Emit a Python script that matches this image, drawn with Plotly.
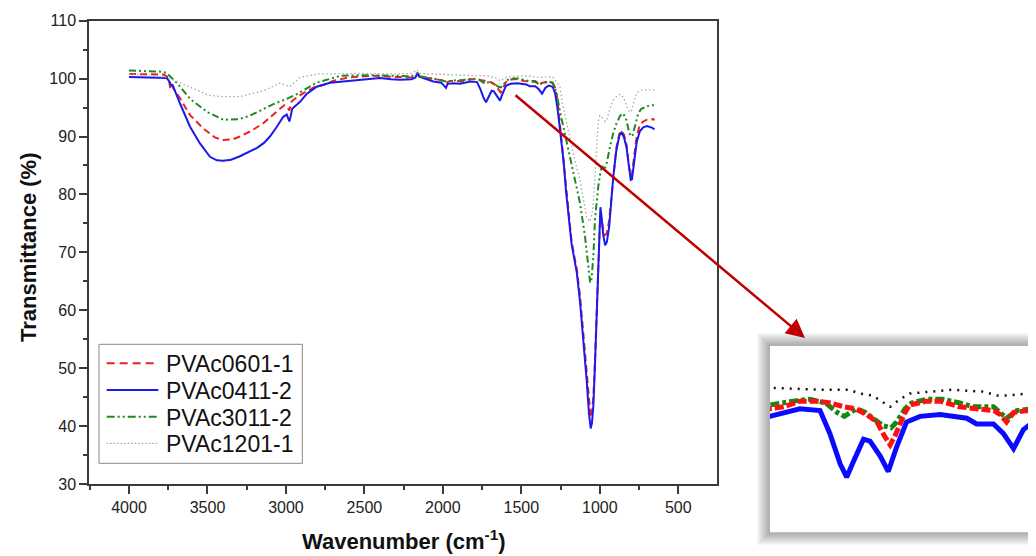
import plotly.graph_objects as go

# ---------------- data ----------------
series_names = ["PVAc0601-1", "PVAc0411-2", "PVAc3011-2", "PVAc1201-1"]

wn_red = [4000, 3900, 3780, 3750, 3745, 3738, 3730, 3715, 3675, 3611, 3527, 3450, 3399, 3340,
          3293, 3220, 3144, 3059, 3010, 2990, 2978, 2965, 2950, 2889, 2820, 2762, 2700, 2600,
          2445, 2300, 2200, 2165, 2150, 2100, 2000, 1980, 1950, 1900, 1889, 1860, 1825, 1790,
          1760, 1730, 1707, 1682, 1660, 1645, 1632, 1622, 1615, 1600, 1590, 1554, 1525, 1483,
          1447, 1410, 1397, 1383, 1368, 1340, 1320, 1300, 1285, 1270, 1255, 1243, 1230, 1215,
          1200, 1180, 1160, 1147, 1126, 1105, 1084, 1069, 1058, 1050, 1041, 1030, 1020, 1010,
          1000, 995, 988, 978, 966, 955, 940, 925, 914, 895, 875, 861, 845, 829, 815, 803, 795,
          780, 765, 745, 723, 700, 680, 660, 652]
t_red = [100.8, 100.8, 100.7, 100.2, 99.8, 98.4, 99.0, 98.2, 96.6, 93.7, 91.4, 89.8, 89.4, 89.5,
         90.0, 91.0, 92.3, 94.3, 95.4, 95.0, 94.5, 96.0, 96.4, 97.5, 98.5, 98.9, 99.6, 100.2,
         100.5, 100.3, 100.2, 100.8, 100.3, 100.1, 99.7, 99.3, 99.6, 99.6, 99.5, 99.6, 99.9, 99.9,
         99.8, 99.6, 99.5, 99.2, 98.8, 98.1, 97.6, 98.05, 98.5, 99.3, 99.7, 99.9, 99.9, 99.6,
         99.5, 99.4, 99.2, 98.8, 99.3, 99.4, 99.4, 99.2, 98.5, 96.5, 92.5, 89.5, 86.0, 81.0,
         77.0, 72.0, 69.0, 67.2, 62.5, 56.0, 49.0, 43.5, 41.5, 42.3, 45.0, 52.0, 60.5, 68.0,
         74.5, 76.5, 75.5, 74.0, 73.0, 73.3, 75.5, 80.0, 83.5, 88.0, 90.5, 91.0, 90.3, 88.5, 85.0,
         83.2, 83.5, 86.5, 90.0, 92.0, 92.6, 92.9, 93.0, 93.0, 92.8]

wn_blue = [4000, 3900, 3800, 3760, 3745, 3738, 3730, 3722, 3710, 3675, 3611, 3548, 3484, 3440,
           3400, 3350, 3293, 3240, 3186, 3140, 3102, 3060, 3017, 2995, 2985, 2978, 2970, 2960,
           2935, 2910, 2870, 2804, 2719, 2640, 2549, 2401, 2330, 2273, 2200, 2175, 2160, 2150,
           2125, 2061, 2010, 1990, 1980, 1970, 1930, 1889, 1825, 1782, 1761, 1739, 1725, 1711,
           1689, 1675, 1653, 1636, 1618, 1597, 1568, 1525, 1468, 1447, 1411, 1390, 1368, 1347,
           1326, 1300, 1285, 1270, 1255, 1243, 1230, 1215, 1200, 1180, 1160, 1147, 1126, 1105,
           1084, 1069, 1058, 1050, 1041, 1030, 1020, 1010, 1002, 996, 988, 978, 966, 955, 940,
           925, 914, 895, 875, 861, 845, 829, 815, 803, 795, 780, 765, 745, 723, 700, 680, 665, 652]
t_blue = [100.3, 100.2, 100.2, 100.1, 99.6, 99.2, 98.8, 98.9, 98.0, 95.7, 91.7, 88.8, 86.5, 85.9,
          85.8, 86.0, 86.6, 87.3, 88.0, 88.9, 90.0, 91.6, 93.4, 93.8, 93.0, 92.6, 93.5, 94.8,
          95.4, 96.0, 97.3, 98.6, 99.3, 99.5, 99.8, 100.1, 99.9, 99.8, 99.9, 100.2, 101.0, 100.4,
          100.1, 99.5, 99.3, 98.6, 98.4, 99.1, 99.2, 99.1, 99.5, 99.4, 98.2, 96.6, 95.9, 96.7,
          97.9, 97.8, 97.0, 96.2, 97.5, 98.8, 99.1, 99.2, 99.0, 98.7, 98.7, 98.2, 97.4, 98.4,
          98.8, 98.6, 97.5, 95.0, 91.5, 89.0, 85.5, 80.5, 76.5, 71.5, 68.5, 66.6, 61.5, 55.0,
          48.0, 42.2, 39.6, 40.5, 43.5, 51.0, 60.0, 68.5, 75.5, 77.8, 76.0, 73.0, 71.2, 71.8, 74.5,
          79.5, 83.1, 87.5, 90.2, 90.7, 89.8, 88.0, 84.5, 82.5, 82.6, 85.5, 89.0, 90.9, 91.6, 91.8,
          91.7, 91.5, 91.2]

wn_green = [4000, 3900, 3800, 3760, 3720, 3690, 3611, 3500, 3399, 3300, 3229, 3080, 2995, 2932,
            2804, 2650, 2500, 2401, 2300, 2200, 2165, 2150, 2061, 1980, 1900, 1889, 1839, 1804,
            1770, 1745, 1730, 1704, 1685, 1668, 1647, 1630, 1618, 1600, 1586, 1554, 1520, 1483,
            1454, 1411, 1390, 1383, 1361, 1326, 1300, 1275, 1255, 1233, 1210, 1190, 1160, 1126,
            1094, 1073, 1062, 1055, 1041, 1031, 1020, 1010, 995, 985, 970, 955, 935, 915, 893,
            870, 850, 830, 812, 800, 790, 775, 755, 735, 712, 680, 652]
t_green = [101.4, 101.3, 101.2, 101.0, 100.0, 99.1, 96.5, 94.2, 92.9, 93.0, 93.6, 95.6, 96.5, 97.3,
           99.3, 100.5, 100.6, 100.6, 100.5, 100.4, 100.9, 100.4, 100.0, 99.5, 99.8, 99.7, 99.9,
           100.0, 99.8, 99.3, 99.1, 99.5, 99.3, 99.0, 98.6, 98.5, 98.8, 99.5, 99.8, 100.0, 100.0,
           99.8, 99.6, 99.6, 99.2, 99.0, 99.4, 99.5, 99.3, 97.5, 94.5, 91.7, 88.8, 86.5, 82.8,
           78.5, 72.7, 66.9, 64.9, 64.8, 69.2, 75.6, 79.0, 81.3, 84.0, 84.9, 84.3, 85.5, 88.2,
           90.5, 92.3, 93.6, 94.0, 92.8, 90.6, 90.0, 90.3, 92.0, 94.0, 94.8, 95.1, 95.4, 95.4]

wn_gray = [4000, 3900, 3760, 3700, 3611, 3500, 3420, 3293, 3144, 3040, 2995, 2975, 2910, 2800,
           2500, 2300, 2200, 2165, 2150, 2000, 1900, 1889, 1780, 1720, 1697, 1670, 1650, 1632,
           1611, 1590, 1500, 1433, 1404, 1379, 1340, 1300, 1280, 1254, 1240, 1220, 1190, 1160,
           1126, 1100, 1084, 1065, 1050, 1041, 1030, 1020, 1010, 999, 985, 966, 955, 935, 914,
           890, 871, 850, 825, 808, 797, 780, 765, 740, 700, 652]
t_gray = [100.8, 100.6, 100.2, 99.6, 98.5, 97.2, 96.9, 96.9, 97.9, 99.2, 98.8, 98.6, 100.2, 100.8,
          100.9, 100.8, 100.9, 101.5, 100.9, 100.8, 100.7, 100.6, 100.5, 100.5, 100.3, 100.2,
          99.9, 99.6, 100.0, 100.3, 100.5, 100.4, 100.2, 100.2, 100.3, 100.3, 99.6, 98.6, 96.0,
          93.5, 90.0, 86.0, 82.5, 78.5, 76.1, 75.3, 76.5, 78.5, 84.0, 89.5, 92.6, 93.6, 93.3,
          92.6, 93.0, 94.8, 96.3, 97.0, 97.3, 96.8, 95.0, 94.2, 94.5, 96.2, 97.5, 98.0, 98.1, 98.0]

x_ticks = [4000, 3500, 3000, 2500, 2000, 1500, 1000, 500]
y_ticks = [30, 40, 50, 60, 70, 80, 90, 100, 110]

# ---------------- layout helpers ----------------
# the page body has an 8 px margin, so the figure is drawn 8 px smaller and
# reference pixel positions are shifted by OFF
OFF = 8
W, H = 1036 - OFF, 556 - OFF
ML, MR, MT, MB = 81, 0, 12, 10
PW, PH = W - ML - MR, H - MT - MB


def pxr(xp):
    """reference pixel x -> paper x"""
    return (xp - OFF - ML) / PW


def pyr(yp):
    """reference pixel y -> paper y"""
    return 1 - (yp - OFF - MT) / PH


def clip(v):
    return min(1.0, max(0.0, v))


FONT = "Arial, 'Liberation Sans', sans-serif"
colors = ["#ee2020", "#1a1aee", "#1e8a1e", "#a8a8a8"]
inset_colors = ["#ff1010", "#0a0aff", "#108a10", "#111111"]
dashes = ["7px,4px", "solid", "7px,3px,2px,3px,2px,3px", "1.5px,2.5px"]
legend_dashes = ["8px,5px", "solid", "8px,3px,2px,3px,2px,3px", "1.5px,2px"]
inset_dashes = ["9px,3px", "solid", "9px,3px,4px,3px", "2px,6px"]
widths = [2, 2, 2, 1.3]
inset_widths = [5, 5, 5, 2.5]

data = [(wn_red, t_red), (wn_blue, t_blue), (wn_green, t_green), (wn_gray, t_gray)]

fig = go.Figure()
for i, (xs, ys) in enumerate(data):
    fig.add_trace(go.Scatter(
        x=xs, y=ys, mode="lines", name=series_names[i],
        line=dict(color=colors[i], width=widths[i], dash=dashes[i]),
        xaxis="x", yaxis="y"))

# inset (zoom of the 1890-1320 cm-1 region); gray first so coloured lines lie on top
for i in [3, 2, 0, 1]:
    xs, ys = data[i]
    fig.add_trace(go.Scatter(
        x=xs, y=ys, mode="lines", showlegend=False, name=series_names[i],
        line=dict(color=inset_colors[i], width=inset_widths[i], dash=inset_dashes[i]),
        xaxis="x2", yaxis="y2"))

axis_line = "#3a3a3a"
fig.update_layout(
    width=W, height=H,
    margin=dict(l=ML, r=MR, t=MT, b=MB),
    paper_bgcolor="white", plot_bgcolor="white",
    font=dict(family=FONT, size=16, color="#222"),
    showlegend=False,
    xaxis=dict(domain=[0, clip(pxr(716.7))], range=[4255, 255], tickvals=x_ticks,
               showgrid=False, zeroline=False, showline=True, linecolor=axis_line,
               linewidth=1.5, mirror=True, ticks="outside", ticklen=8, tickwidth=1.5,
               tickcolor=axis_line, tickfont=dict(size=16, color="#222"),
               minor=dict(dtick=250, tick0=0, ticks="outside", ticklen=4, tickwidth=1.5,
                          tickcolor=axis_line)),
    yaxis=dict(domain=[clip(pyr(484)), clip(pyr(20.7))], range=[30, 110], tickvals=y_ticks,
               showgrid=False, zeroline=False, showline=True, linecolor=axis_line,
               linewidth=1.5, mirror=True, ticks="outside", ticklen=8, tickwidth=1.5,
               tickcolor=axis_line, tickfont=dict(size=16, color="#222"),
               minor=dict(dtick=5, tick0=0, ticks="outside", ticklen=4, tickwidth=1.5,
                          tickcolor=axis_line)),
    xaxis2=dict(domain=[clip(pxr(770)), 1.0], range=[1889, 1320], visible=False, anchor="y2"),
    yaxis2=dict(domain=[clip(pyr(532.3)), clip(pyr(346))], range=[93.0, 102.8],
                visible=False, anchor="x2"),
)

shapes = []
# inset shadow and white card
x0, x1, y0, y1 = 770, 1070, 346, 532.3
for k in range(10, 0, -1):
    d = k * 1.3
    shapes.append(dict(type="rect", xref="paper", yref="paper", layer="below",
                       x0=pxr(x0 - d), x1=pxr(x1 + d), y0=pyr(y1 + d), y1=pyr(y0 - d),
                       line=dict(width=0), fillcolor="rgba(0,0,0,0.035)"))
shapes.append(dict(type="rect", xref="paper", yref="paper", layer="below",
                   x0=pxr(x0), x1=pxr(x1), y0=pyr(y1), y1=pyr(y0),
                   line=dict(width=0), fillcolor="white"))

# legend box (drawn by hand to match the compact spacing of the original)
shapes.append(dict(type="rect", xref="paper", yref="paper", layer="above",
                   x0=pxr(99), x1=pxr(302.3), y0=pyr(463.3), y1=pyr(344.3),
                   line=dict(color="#8a8a8a", width=1), fillcolor="white"))
legend_rows = [363.3, 390.0, 416.7, 443.3]
for i, ry in enumerate(legend_rows):
    shapes.append(dict(type="line", xref="paper", yref="paper", layer="above",
                       x0=pxr(106.7), x1=pxr(158.3), y0=pyr(ry), y1=pyr(ry),
                       line=dict(color=colors[i], width=widths[i] if i != 3 else 1.2,
                                 dash=legend_dashes[i])))
fig.update_layout(shapes=shapes)

for i, ry in enumerate(legend_rows):
    fig.add_annotation(text=series_names[i], xref="paper", yref="paper",
                       x=pxr(163.5), y=pyr(ry + 1), xanchor="left", yanchor="middle",
                       showarrow=False, font=dict(size=23, color="#111", family=FONT))

# axis titles and arrow
fig.add_annotation(text="<b>Transmittance (%)</b>", xref="paper", yref="paper",
                   x=pxr(28), y=pyr(247), xanchor="center", yanchor="middle",
                   textangle=-90, showarrow=False,
                   font=dict(size=22, color="#111", family=FONT))
fig.add_annotation(text="<b>Wavenumber (cm<sup>-1</sup>)</b>", xref="paper", yref="paper",
                   x=pxr(404), y=pyr(540), xanchor="center", yanchor="middle",
                   showarrow=False, font=dict(size=22, color="#111", family=FONT))
fig.add_annotation(text="", xref="paper", yref="paper", x=pxr(805), y=pyr(338),
                   ax=514 - 805, ay=94 - 338, axref="pixel", ayref="pixel",
                   showarrow=True, arrowhead=2, arrowsize=1.5, arrowwidth=2.5,
                   arrowcolor="#c00000", standoff=0)

fig.write_html("out.html")
